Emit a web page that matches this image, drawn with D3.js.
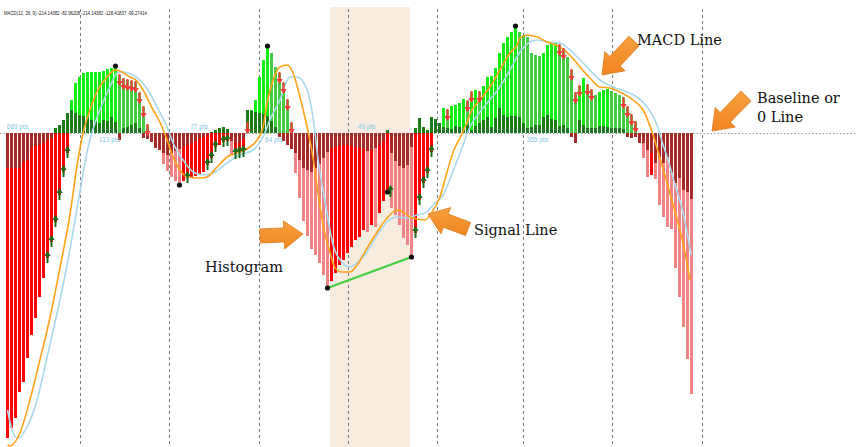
<!DOCTYPE html>
<html><head><meta charset="utf-8">
<script src="https://cdn.jsdelivr.net/npm/d3@7"></script>
<style>html,body{margin:0;padding:0;background:#fff;} svg{display:block}</style>
</head><body><svg id="c" width="856" height="447"></svg>
<script>
// ---- DATA (values in chart units, + above zero line) ----
const legendText = "MACD(12, 26, 9) -214.14382 -82.96208 -214.14382 -128.41837 -99.27414";
const mainHist = [
 -305,-295,-285,-259,-249,-225,-202,-185,-164,-145,-125,-109,-89,-62,-39,-20,
 33,50,56,60,61,61,61,61,62,64,65,67,58,54,53,52,51,40,26,8,
 -3,-8,-16,-31,-38,-44,-48,-52,-48,-45,-44,-43,-41,-39,-32,-25,-14,-12,-9,-8,-22,-21,-20,-19,
 10,23,33,56,73,87,80,66,60,50,33,10,
 -40,-65,-88,-103,-116,-122,-130,-142,-155,-148,-140,-132,-127,-120,-114,-107,-104,-97,-99,-92,-94,-80,-68,-59,-75,-82,-92,-105,-112,-124,-100,-67,-50,-40,-19,
 3,10,25,23,27,28,30,34,32,41,43,41,47,56,57,65,80,90,96,101,107,101,98,96,80,78,77,80,88,90,90,88,84,76,63,40,47,55,48,43,38,41,43,44,42,40,38,35,26,18,11,
 -5,-25,-44,-42,-46,-72,-84,-94,-96,-135,-164,-194,-226,-261
];
const darkHist = [
 -35,-35,-35,-35,-29,-27,-15,-13,-12,-10,-7,-6,5,8,13,20,
 23,20,18,17,15,13,11,10,13,12,16,11,-7,5,6,8,10,5,-5,-6,
 -9,-15,-17,-20,-22,-20,-18,-16,-14,-12,-10,-8,-6,-4,-2,1,3,5,6,4,-8,-10,-10,-6,
 23,22,21,20,19,17,12,6,-4,-8,-12,-16,
 -20,-27,-35,-37,-39,-35,-31,-25,-19,-15,-14,-13,-12,-12,-13,-14,-15,-16,-18,-17,-15,-12,-8,3,-20,-28,-33,-35,-32,-14,5,15,6,3,16,
 14,10,6,5,4,7,6,4,8,3,7,10,13,16,6,15,25,18,16,17,17,16,10,5,6,8,8,16,18,14,13,7,8,5,-4,-10,13,8,5,5,5,7,7,6,5,5,5,4,-4,-5,-4,
 -10,-10,-17,-20,-30,-24,-30,-24,-40,-50,-45,-57,-59,-66
];
const macdIdx = [0,0.6,3.1,5.6,8.1,10.6,13.1,15.6,17.6,18.9,20.6,22.6,24.9,26.9,28.1,30.6,32.4,33.9,36.4,38.1,39.9,41.4,43.1,44.9,48.1,49.9,52.4,54.9,58.1,60.6,62.4,63.9,64.9,66.4,68.1,69.9,71.4,73.1,74.9,76.4,77.6,78.9,80.6,81.9,83.6,85.6,87.4,89.9,92.4,94.9,97.4,98.9,100.6,102.4,104.4,106.0,108.1,109.9,111.4,113.1,114.6,116.1,118.1,120.6,123.1,125.6,127.4,128.1,129.9,132.4,134.9,138.1,140.6,143.1,145.6,148.1,150.6,153.1,156.4,158.9,161.4,163.1,164.9,166.4,168.1,169.4,170.6];
const macdVal = [-312,-313,-300,-267,-227,-185,-135,-82,-27,0,23,43,56,63,62,56,52,43,23,11,-7,-24,-37,-44,-45,-44,-34,-24,-19,-14,-7,6,30,53,66,68,60,36,6,-25,-59,-92,-119,-135,-139,-139,-132,-115,-99,-85,-77,-79,-84,-86,-87,-80,-64,-39,-19,-5,8,23,33,46,63,80,88,95,98,96,91,86,78,66,55,46,45,41,33,23,-2,-25,-50,-72,-97,-120,-147];
const sigIdx = [0,1.4,2.6,4.9,7.4,9.9,12.4,14.9,18.1,19.9,20.6,23.1,25.6,27.4,28.9,31.4,33.1,35.1,37.4,39.9,41.4,43.9,46.4,48.9,51.4,54.9,58.1,61.4,63.9,65.6,68.1,70.6,72.4,74.9,76.6,77.6,79.4,81.4,83.6,85.6,87.6,89.9,92.4,94.9,97.4,99.9,102.4,104.4,106.4,108.9,111.4,113.9,115.6,118.1,119.9,123.1,125.6,128.1,130.6,132.4,134.9,138.1,141.4,144.9,148.1,151.4,154.9,157.4,159.9,162.4,163.9,164.9,166.9,168.9,170.9];
const sigVal = [-277,-300,-305,-294,-267,-224,-180,-132,-59,-19,-7,23,46,60,61,58,53,43,26,6,-10,-27,-39,-42,-40,-30,-22,-17,-4,13,33,56,56,43,9,-25,-69,-112,-129,-134,-129,-119,-102,-89,-84,-85,-82,-80,-72,-62,-38,-12,6,21,30,46,63,81,91,93,91,90,80,66,53,46,41,36,26,8,-12,-24,-52,-80,-122];
const downArrows = [28,29,30,31,32,33,34,35,60,68,69,70,71,110,115,116,118,138,139,141,142,143,145,146,154,155,156,157];
const upArrows = [10,11,12,13,14,15,45,50,51,52,54,55,57,58,59,95,102,103,104,105,106];
const swingDots = [27,43,65,80,95,101,127];
const divergence = [80,101];
const gridIdx = [18.5,40.8,63.25,85.6,107.8,129.2,151.5,173.9];
const bandIdx = [81,101];
const ptsText = ["689 pts","113 pts","77 pts","64 pts","49 pts","355 pts"];
const ptsIdx = [2.5,25.5,47.9,66.6,89.75,132.5];
const ptsSide = ["up","down","up","down","up","down"];

// ---- DRAW ----
const svg = d3.select("#c");
const W = 856, H = 447;
const x = d3.scaleLinear().domain([0, mainHist.length]).range([6, 694]);
const y = d3.scaleLinear().domain([-314, 106]).range([447, 27]);
const bw = 3;
const xc = i => x(i) + bw/2;

svg.append("rect").attr("x", x(bandIdx[0])).attr("y", 7)
  .attr("width", x(bandIdx[1]) - x(bandIdx[0])).attr("height", H - 7).attr("fill", "#f8ebe0");

svg.append("text").attr("x", 4).attr("y", 15).attr("font-family", "Liberation Sans, Arial, sans-serif")
  .attr("font-size", 5.5).attr("fill", "#222").attr("textLength", 143).attr("lengthAdjust", "spacingAndGlyphs")
  .text(legendText);

svg.selectAll("line.grid").data(gridIdx).join("line").attr("class","grid")
  .attr("x1", d => Math.round(x(d)) + 0.5).attr("x2", d => Math.round(x(d)) + 0.5)
  .attr("y1", 9).attr("y2", H).attr("stroke", "#7a7a7a").attr("stroke-width", 1).attr("stroke-dasharray", "3,3");

svg.append("line").attr("x1", 0).attr("x2", W).attr("y1", Math.round(y(0)) + 0.5).attr("y2", Math.round(y(0)) + 0.5)
  .attr("stroke", "#9a9a9a").attr("stroke-width", 1).attr("stroke-dasharray", "1.5,2");

function mainColor(v, i) {
  const prev = i > 0 ? mainHist[i-1] : v - 1;
  const up = v >= prev;
  if (v >= 0) return up ? "#11ee11" : "#44cc44";
  return up ? "#ff0000" : "#f08484";
}
svg.append("g").selectAll("rect").data(mainHist).join("rect")
  .attr("x", (d,i) => x(i)).attr("width", bw)
  .attr("y", d => y(Math.max(0, d))).attr("height", d => Math.abs(y(d) - y(0)))
  .attr("fill", (d,i) => mainColor(d,i));
svg.append("g").selectAll("rect").data(darkHist).join("rect")
  .attr("x", (d,i) => x(i)).attr("width", bw)
  .attr("y", d => y(Math.max(0, d))).attr("height", d => Math.abs(y(d) - y(0)))
  .attr("fill", d => d >= 0 ? "#1d7a1d" : "#a62a2a");

const sigPts = sigIdx.map((d,i) => [x(d) + bw/2, y(sigVal[i])]);
const macdPts = macdIdx.map((d,i) => [x(d) + bw/2, y(macdVal[i])]);
const line = d3.line().curve(d3.curveMonotoneX);
svg.append("path").attr("d", line(sigPts)).attr("fill","none").attr("stroke","#a8d8ec").attr("stroke-width",1.6);
svg.append("path").attr("d", line(macdPts)).attr("fill","none").attr("stroke","#ffa31a").attr("stroke-width",1.6);

function arrowPath(cx, tail, tip) {
  const dir = tip > tail ? 1 : -1;
  const headBase = tip - dir * 5;
  return `M${cx-1},${tail} L${cx+1},${tail} L${cx+1},${headBase} L${cx+3.2},${headBase} L${cx},${tip} L${cx-3.2},${headBase} L${cx-1},${headBase} Z`;
}
svg.append("g").selectAll("path").data(downArrows).join("path")
  .attr("d", i => { const t = y(Math.max(0, mainHist[i])); return arrowPath(xc(i), t - 1, t + 11); })
  .attr("fill", "#ff3b3b");
svg.append("g").selectAll("path").data(upArrows).join("path")
  .attr("d", i => { const t = y(Math.min(0, mainHist[i])); return arrowPath(xc(i) + (i === 95 ? 3 : 0), t + 5, t - 7); })
  .attr("fill", "#1a6b1a");

svg.append("line")
  .attr("x1", xc(divergence[0])).attr("y1", y(mainHist[divergence[0]]))
  .attr("x2", xc(divergence[1])).attr("y2", y(mainHist[divergence[1]]))
  .attr("stroke", "#3fcf3f").attr("stroke-width", 2);
svg.append("g").selectAll("circle").data(swingDots).join("circle")
  .attr("cx", i => xc(i)).attr("cy", i => y(mainHist[i])).attr("r", 2.6).attr("fill", "#111");

svg.append("g").selectAll("text").data(ptsText).join("text")
  .attr("x", (d,i) => x(ptsIdx[i]) + bw/2).attr("y", (d,i) => ptsSide[i] === "up" ? y(0) - 4 : y(0) + 9)
  .attr("text-anchor", "middle").attr("font-family", "Liberation Sans, Arial, sans-serif")
  .attr("font-size", 6.5).attr("fill", "#86c8e6").text(d => d);

// annotation block arrows
function blockArrow(x1, y1, x2, y2, shaft, head, headLen) {
  const dx = x2 - x1, dy = y2 - y1, L = Math.hypot(dx, dy);
  const ux = dx / L, uy = dy / L, px = -uy, py = ux;
  const b = L - headLen;
  const P = (a, s) => [x1 + ux*a + px*s, y1 + uy*a + py*s];
  const pts = [P(0, -shaft/2), P(b, -shaft/2), P(b, -head/2), P(L, 0), P(b, head/2), P(b, shaft/2), P(0, shaft/2)];
  return "M" + pts.map(p => p[0].toFixed(1) + "," + p[1].toFixed(1)).join("L") + "Z";
}
const annArrows = [
  [634, 41, 602, 75],
  [746, 96, 712, 131],
  [260, 236, 303, 234],
  [468, 229, 428, 214]
];
const defs = svg.append("defs");
const gr = defs.append("linearGradient").attr("id","og").attr("x1",0).attr("y1",0).attr("x2",0).attr("y2",1);
gr.append("stop").attr("offset","0%").attr("stop-color","#f9a040");
gr.append("stop").attr("offset","100%").attr("stop-color","#ef8420");
svg.append("g").selectAll("path").data(annArrows).join("path")
  .attr("d", d => blockArrow(d[0], d[1], d[2], d[3], 14, 28, 19))
  .attr("fill", "url(#og)").attr("stroke", "#e07a16").attr("stroke-width", 0.8);

const annFont = "DejaVu Serif, serif";
const ann = [
  ["MACD Line", 637, 45],
  ["Baseline or", 757, 103],
  ["0 Line", 757, 122],
  ["Signal Line", 474, 235],
  ["Histogram", 205, 272]
];
svg.append("g").selectAll("text").data(ann).join("text")
  .attr("x", d => d[1]).attr("y", d => d[2]).attr("font-family", annFont)
  .attr("font-size", 14.5).attr("fill", "#111").text(d => d[0]);
</script>
</body></html>
